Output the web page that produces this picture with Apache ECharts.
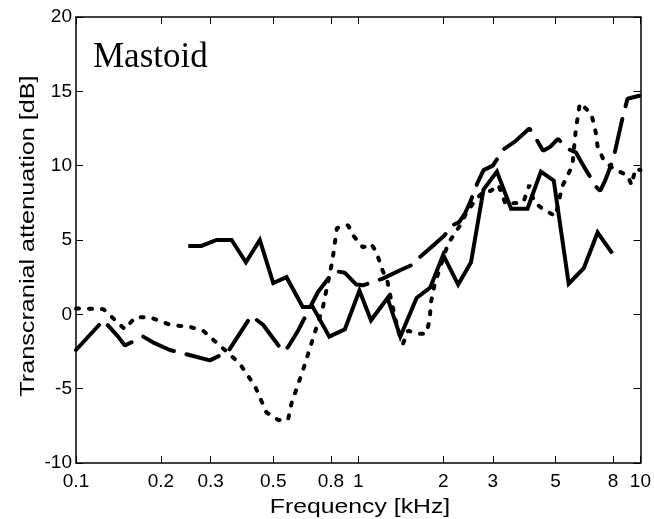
<!DOCTYPE html>
<html>
<head>
<meta charset="utf-8">
<script src="https://cdn.jsdelivr.net/npm/echarts@6/dist/echarts.min.js"></script>
<style>
    html, body { margin: 0; padding: 0; background: #fff; }
    #chart { width: 654px; height: 519px; }
</style>
</head>
<body>
<div id="chart"></div>
<script>
// frequency ticks (kHz)
var freqTicks = [0.1, 0.2, 0.3, 0.5, 0.8, 1, 2, 3, 5, 8, 10];

// dashed curve
var dashFreq = [0.1, 0.125, 0.141, 0.149, 0.173, 0.188, 0.215, 0.26, 0.298, 0.346, 0.418, 0.46, 0.541, 0.564, 0.612, 0.72, 0.79, 0.837, 0.895, 0.985, 1.04, 1.22, 1.42, 1.54, 1.62, 1.81, 2.02, 2.16, 2.28, 2.39, 2.5, 2.64, 2.78, 3.0, 3.27, 3.58, 3.88, 4.04, 4.15, 4.52, 4.78, 5.1, 5.57, 5.9, 6.37, 6.95, 7.2, 7.5, 8.0, 8.64, 9.0, 9.9];
var dashVal = [-2.4, -0.4, -1.5, -2.1, -1.5, -1.9, -2.4, -2.8, -3.1, -2.5, -0.1, -0.7, -2.5, -2.2, -1.1, 1.5, 2.5, 2.9, 2.8, 2.0, 1.95, 2.4, 3.0, 3.3, 3.7, 4.5, 5.3, 6.0, 6.2, 6.8, 7.6, 8.8, 9.7, 10.0, 11.1, 11.6, 12.2, 12.5, 12.2, 11.0, 11.25, 11.8, 11.1, 10.9, 9.8, 8.6, 8.3, 9.0, 10.4, 13.2, 14.5, 14.7];

// solid curve
var solidFreq = [0.25, 0.278, 0.315, 0.356, 0.40, 0.448, 0.50, 0.557, 0.636, 0.69, 0.79, 0.897, 1.01, 1.11, 1.27, 1.41, 1.61, 1.8, 2.0, 2.26, 2.51, 2.78, 3.1, 3.48, 3.98, 4.44, 4.93, 5.57, 6.3, 7.05, 7.95];
var solidVal = [4.6, 4.6, 5.0, 5.0, 3.5, 5.0, 2.1, 2.5, 0.5, 0.5, -1.5, -1.0, 1.6, -0.4, 1.1, -1.5, 1.1, 1.8, 4.0, 2.0, 3.5, 8.4, 9.6, 7.1, 7.1, 9.6, 9.0, 2.06, 3.1, 5.5, 4.1];

// dotted curve
var dotFreq = [0.1, 0.125, 0.149, 0.162, 0.183, 0.215, 0.254, 0.282, 0.319, 0.38, 0.43, 0.473, 0.52, 0.564, 0.58, 0.636, 0.70, 0.75, 0.81, 0.84, 0.92, 0.96, 1.04, 1.11, 1.16, 1.21, 1.27, 1.31, 1.39, 1.44, 1.5, 1.62, 1.74, 1.79, 1.81, 1.87, 1.94, 2.08, 2.21, 2.28, 2.4, 2.6, 2.8, 2.95, 3.14, 3.33, 3.85, 4.04, 4.2, 4.5, 5.0, 5.28, 5.74, 5.9, 6.1, 6.7, 6.95, 7.05, 7.4, 8.0, 9.0, 9.3, 9.6, 10];
var dotVal = [0.4, 0.35, -1.0, -0.2, -0.2, -0.7, -0.85, -1.1, -2.0, -3.3, -4.8, -6.6, -7.1, -7.1, -6.0, -3.8, -1.3, 0.5, 3.6, 5.8, 6.0, 5.3, 4.5, 4.75, 4.2, 3.1, 2.2, 0.9, -1.2, -2.0, -1.1, -1.3, -1.3, -0.4, 0.8, 2.1, 3.0, 4.75, 5.5, 5.9, 6.7, 7.7, 8.3, 8.3, 8.7, 7.4, 7.55, 8.7, 7.55, 7.1, 6.6, 8.6, 10.0, 12.4, 14.2, 13.5, 12.2, 11.3, 10.4, 9.8, 9.35, 8.7, 9.8, 9.7];

function pairs(xs, ys) {
    var out = [];
    for (var i = 0; i < xs.length; i++) {
        out.push([xs[i], ys[i]]);
    }
    return out;
}

var sansFont = '"Liberation Sans", Arial, sans-serif';

var myChart = echarts.init(document.getElementById('chart'), null, { renderer: 'canvas' });

var xCommon = {
    type: 'log',
    logBase: 10,
    min: 0.1,
    max: 10,
    axisLine: { show: true, onZero: false, lineStyle: { color: '#000', width: 1.5 } },
    axisTick: { show: true, inside: true, length: 7, customValues: freqTicks, lineStyle: { color: '#000', width: 1 } },
    splitLine: { show: false },
    minorTick: { show: false }
};

var yCommon = {
    type: 'value',
    min: -10,
    max: 20,
    interval: 5,
    axisLine: { show: true, onZero: false, lineStyle: { color: '#000', width: 1.5 } },
    axisTick: { show: true, inside: true, length: 7, lineStyle: { color: '#000', width: 1 } },
    splitLine: { show: false }
};

var option = {
    animation: false,
    backgroundColor: '#fff',
    grid: { left: 76, right: 13, top: 17, bottom: 56 },
    xAxis: [
        Object.assign({}, xCommon, {
            position: 'bottom',
            axisLabel: {
                show: true,
                customValues: freqTicks,
                margin: 9,
                color: '#000',
                fontSize: 19,
                fontFamily: sansFont,
                formatter: function (v) { return String(Math.round(v * 10) / 10); }
            }
        }),
        Object.assign({}, xCommon, {
            position: 'top',
            axisLabel: { show: false }
        })
    ],
    yAxis: [
        Object.assign({}, yCommon, {
            position: 'left',
            axisLabel: { color: '#000', fontSize: 19, fontFamily: sansFont, margin: 4, padding: [5, 0, 0, 0] }
        }),
        Object.assign({}, yCommon, {
            position: 'right',
            axisLabel: { show: false }
        })
    ],
    graphic: [
        {
            type: 'text',
            left: 93,
            top: 40,
            style: {
                text: 'Mastoid',
                fill: '#000',
                font: '35px "Liberation Serif", "Times New Roman", serif'
            }
        },
        {
            // axis titles, stretched like the original figure
            type: 'text',
            x: 360,
            y: 507,
            scaleX: 1.18,
            style: {
                text: 'Frequency [kHz]',
                fill: '#000',
                font: '21px ' + sansFont,
                align: 'center',
                verticalAlign: 'middle'
            }
        },
        {
            type: 'text',
            x: 28,
            y: 236,
            rotation: Math.PI / 2,
            scaleX: 1.2,
            style: {
                text: 'Transcranial attenuation [dB]',
                fill: '#000',
                font: '21px ' + sansFont,
                align: 'center',
                verticalAlign: 'middle'
            }
        }
    ],
    series: [
        {
            name: 'solid',
            type: 'line',
            showSymbol: false,
            data: pairs(solidFreq, solidVal),
            lineStyle: { color: '#000', width: 4, type: 'solid', join: 'miter' }
        },
        {
            name: 'dashed',
            type: 'line',
            showSymbol: false,
            data: pairs(dashFreq, dashVal),
            lineStyle: { color: '#000', width: 4, type: [34, 13], cap: 'round' }
        },
        {
            name: 'dotted',
            type: 'line',
            showSymbol: false,
            data: pairs(dotFreq, dotVal),
            lineStyle: { color: '#000', width: 4, type: [3, 10], cap: 'round' }
        }
    ]
};

myChart.setOption(option, true);
</script>
</body>
</html>
